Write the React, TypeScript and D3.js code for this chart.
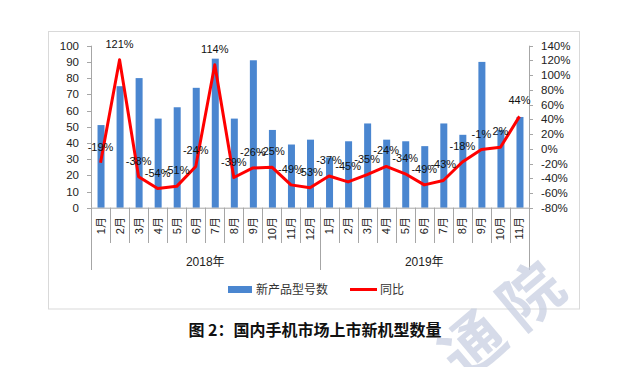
import React, { useEffect, useRef } from 'react';
import * as d3 from 'd3';

const months2018 = ['1月', '2月', '3月', '4月', '5月', '6月', '7月', '8月', '9月', '10月', '11月', '12月'];
const months2019 = ['1月', '2月', '3月', '4月', '5月', '6月', '7月', '8月', '9月', '10月', '11月'];
const years = ['2018年', '2019年'];

// 新产品型号数
const models2018 = [51, 75, 80, 55, 62, 74, 92, 55, 91, 48, 39, 42];
const models2019 = [31, 41, 52, 42, 41, 38, 52, 45, 90, 48, 56];

// 同比 (%)
const yoy2018 = [-19, 121, -38, -54, -51, -24, 114, -39, -26, -25, -49, -53];
const yoy2019 = [-37, -45, -35, -24, -34, -49, -43, -18, -1, 2, 44];

const leftTicks = [0, 10, 20, 30, 40, 50, 60, 70, 80, 90, 100];
const rightTicks = [-80, -60, -40, -20, 0, 20, 40, 60, 80, 100, 120, 140];

const FONT = '"Liberation Sans", Arial, "Noto Sans CJK SC", sans-serif';
const CJK = '"Noto Sans CJK SC", "Liberation Sans", sans-serif';
const BLUE = '#4a86d0';
const RED = '#ff0000';
const AXIS = '#a6a6a6';

const App: React.FC = () => {
  const ref = useRef<SVGSVGElement>(null);

  useEffect(() => {
    if (!ref.current) return;
    const svg = d3.select(ref.current);
    svg.selectAll('*').remove();

    const rows = [
      ...months2018.map((m, i) => ({ key: `2018-${i}`, month: m, year: 0, models: models2018[i], yoy: yoy2018[i] })),
      ...months2019.map((m, i) => ({ key: `2019-${i}`, month: m, year: 1, models: models2019[i], yoy: yoy2019[i] })),
    ];

    const plot = { left: 91, right: 529, top: 45.7, bottom: 207.7 };

    const x = d3.scaleBand<string>()
      .domain(rows.map(d => d.key))
      .range([plot.left, plot.right])
      .padding(0);
    const yL = d3.scaleLinear().domain([0, 100]).range([plot.bottom, plot.top]);
    const yR = d3.scaleLinear().domain([-80, 140]).range([plot.bottom, plot.top]);
    const cx = (k: string) => (x(k) || 0) + x.bandwidth() / 2;

    // chart frame
    svg.append('rect')
      .attr('x', 48.5).attr('y', 31.5)
      .attr('width', 531).attr('height', 277.5)
      .attr('fill', 'white')
      .attr('stroke', '#d9d9d9');

    // bars
    const barW = 7;
    svg.append('g').selectAll('rect')
      .data(rows)
      .enter()
      .append('rect')
      .attr('x', d => cx(d.key) - barW / 2 + 0.5)
      .attr('y', d => yL(d.models))
      .attr('width', barW)
      .attr('height', d => plot.bottom - yL(d.models))
      .attr('fill', BLUE);

    // left axis
    const gl = svg.append('g');
    gl.append('line')
      .attr('x1', plot.left + 0.5).attr('x2', plot.left + 0.5)
      .attr('y1', plot.top).attr('y2', plot.bottom)
      .attr('stroke', AXIS);
    leftTicks.forEach(t => {
      gl.append('line')
        .attr('x1', plot.left - 4).attr('x2', plot.left)
        .attr('y1', Math.round(yL(t)) + 0.5).attr('y2', Math.round(yL(t)) + 0.5)
        .attr('stroke', AXIS);
      gl.append('text')
        .attr('x', 79).attr('y', yL(t) + 4)
        .attr('text-anchor', 'end')
        .attr('font-family', FONT).attr('font-size', 11.5)
        .attr('fill', '#222')
        .text(t);
    });

    // right axis
    const gr = svg.append('g');
    gr.append('line')
      .attr('x1', plot.right + 0.5).attr('x2', plot.right + 0.5)
      .attr('y1', plot.top).attr('y2', plot.bottom)
      .attr('stroke', AXIS);
    rightTicks.forEach(t => {
      gr.append('line')
        .attr('x1', plot.right).attr('x2', plot.right + 4)
        .attr('y1', Math.round(yR(t)) + 0.5).attr('y2', Math.round(yR(t)) + 0.5)
        .attr('stroke', AXIS);
      gr.append('text')
        .attr('x', 541).attr('y', yR(t) + 4)
        .attr('font-family', FONT).attr('font-size', 11.5)
        .attr('fill', '#222')
        .text(`${t}%`);
    });

    // category axis
    const gx = svg.append('g');
    gx.append('line')
      .attr('x1', plot.left).attr('x2', plot.right)
      .attr('y1', plot.bottom + 0.5).attr('y2', plot.bottom + 0.5)
      .attr('stroke', AXIS);
    rows.forEach((d, i) => {
      const x0 = Math.round(x(d.key) || 0) + 0.5;
      const yearEdge = i === 0 || i === months2018.length;
      gx.append('line')
        .attr('x1', x0).attr('x2', x0)
        .attr('y1', plot.bottom).attr('y2', yearEdge ? 270 : 243)
        .attr('stroke', AXIS);
      gx.append('text')
        .attr('transform', `translate(${cx(d.key) + 4},217) rotate(-90)`)
        .attr('text-anchor', 'end')
        .attr('font-family', FONT).attr('font-size', 11)
        .attr('fill', '#222')
        .text(d.month);
    });
    gx.append('line')
      .attr('x1', plot.right + 0.5).attr('x2', plot.right + 0.5)
      .attr('y1', plot.bottom).attr('y2', 270)
      .attr('stroke', AXIS);
    years.forEach((yr, yi) => {
      const inYear = rows.filter(d => d.year === yi);
      const a = x(inYear[0].key) || 0;
      const b = (x(inYear[inYear.length - 1].key) || 0) + x.bandwidth();
      gx.append('text')
        .attr('x', (a + b) / 2).attr('y', 266)
        .attr('text-anchor', 'middle')
        .attr('font-family', FONT).attr('font-size', 12)
        .attr('fill', '#222')
        .text(yr);
    });

    // yoy line
    const line = d3.line<typeof rows[number]>()
      .x(d => cx(d.key))
      .y(d => yR(d.yoy));
    svg.append('path')
      .datum(rows)
      .attr('d', line)
      .attr('fill', 'none')
      .attr('stroke', RED)
      .attr('stroke-width', 3)
      .attr('stroke-linejoin', 'round');

    // data labels
    svg.append('g').selectAll('text')
      .data(rows)
      .enter()
      .append('text')
      .attr('x', d => cx(d.key))
      .attr('y', d => yR(d.yoy) - 12)
      .attr('text-anchor', 'middle')
      .attr('font-family', FONT).attr('font-size', 11)
      .attr('fill', '#111')
      .text(d => `${d.yoy}%`);

    // legend
    const lg = svg.append('g');
    lg.append('rect')
      .attr('x', 228).attr('y', 286).attr('width', 24).attr('height', 7)
      .attr('fill', BLUE);
    lg.append('text')
      .attr('x', 256).attr('y', 294)
      .attr('font-family', CJK).attr('font-size', 12)
      .attr('fill', '#333')
      .text('新产品型号数');
    lg.append('line')
      .attr('x1', 350).attr('x2', 377).attr('y1', 289.5).attr('y2', 289.5)
      .attr('stroke', RED).attr('stroke-width', 3);
    lg.append('text')
      .attr('x', 380).attr('y', 294)
      .attr('font-family', CJK).attr('font-size', 12)
      .attr('fill', '#333')
      .text('同比');

    // caption
    svg.append('text')
      .attr('x', 315).attr('y', 336)
      .attr('text-anchor', 'middle')
      .attr('font-family', CJK).attr('font-size', 16).attr('font-weight', 'bold')
      .attr('fill', '#111')
      .text('图 2：国内手机市场上市新机型数量');

    // watermark (mostly off the bottom edge)
    svg.append('text')
      .attr('transform', 'translate(580,284) rotate(-40)')
      .attr('text-anchor', 'end')
      .attr('font-family', CJK).attr('font-size', 62).attr('font-weight', 'bold')
      .attr('letter-spacing', 14)
      .attr('fill', '#c5cde0')
      .attr('opacity', 0.7)
      .text('通院');
  }, []);

  return (
    <svg
      ref={ref}
      width={636}
      height={367}
      style={{ position: 'absolute', left: 0, top: 0, background: 'white' }}
    />
  );
};

export default App;
